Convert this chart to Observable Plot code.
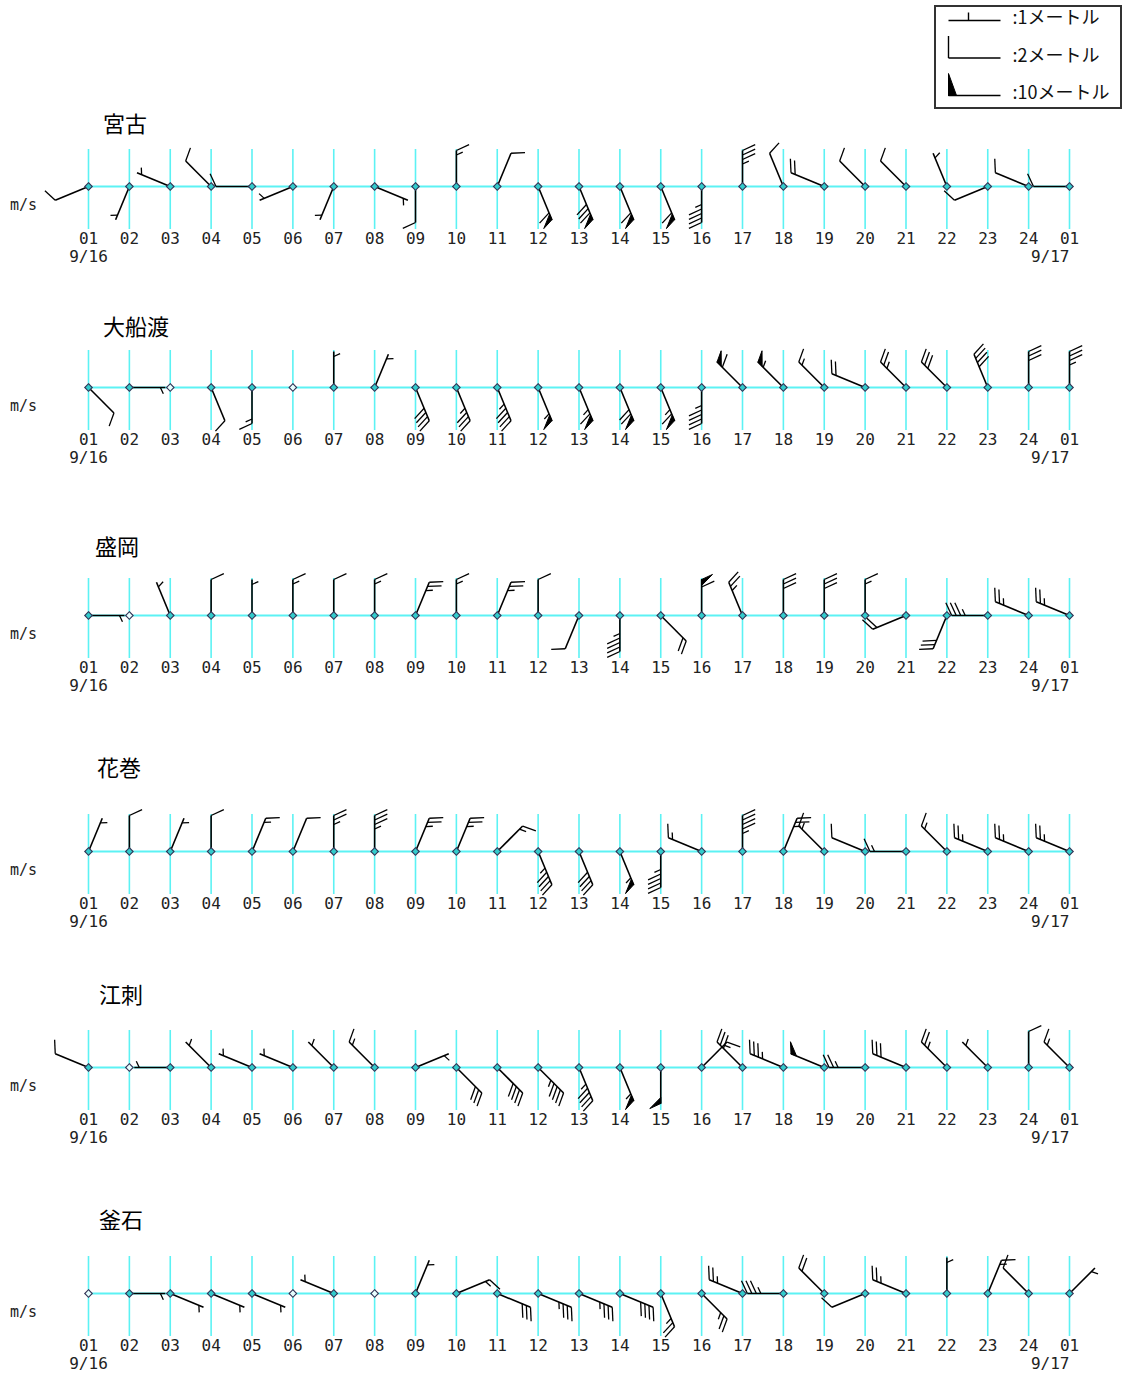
<!DOCTYPE html>
<html><head><meta charset="utf-8">
<script src="https://cdn.jsdelivr.net/npm/d3@7"></script>
<script src="https://cdn.jsdelivr.net/npm/@observablehq/plot@0.6"></script>
<style>
body{margin:0;background:#fff;}
#page{position:relative;width:1124px;height:1375px;overflow:hidden;font-family:"Noto Sans CJK JP",sans-serif;background:#fff;}
.title{position:absolute;font-size:22px;line-height:24px;color:#000;white-space:nowrap;}
.unit{position:absolute;font-family:"DejaVu Sans Mono",monospace;font-size:15px;line-height:16px;color:#222;}
.row{position:absolute;left:0;}
#legend{position:absolute;left:934px;top:5px;width:188px;height:104px;border:2px solid #333;box-sizing:border-box;background:#fff;}
#legend svg{position:absolute;left:0;top:0;}
</style></head>
<body><div id="page"></div>
<script>
// ---- data ----
const hourLabels = ["01","02","03","04","05","06","07","08","09","10","11","12","13","14","15","16","17","18","19","20","21","22","23","24","01"];
const dateLabels = ["9/16","9/17"];
const stations = ["宮古","大船渡","盛岡","花巻","江刺","釜石"];

const miyakoDir   = ["WSW","SSW","WNW","NW","W","WSW","SSW","ESE","S","N","NNE","SSE","SSE","SSE","SSE","S","N","NNW","WNW","NW","NW","NNW","WSW","WNW","W"];
const miyakoSpeed = [2,1,1,2,2,1,1,1,2,3,2,12,16,12,12,9,7,2,4,2,2,1,2,2,2];

const ofunatoDir   = ["SE","E","","SSE","S","","N","NNE","SSE","SSE","SSE","SSE","SSE","SSE","SSE","S","NW","NW","NW","WNW","NW","NW","NNW","N","N"];
const ofunatoSpeed = [2,1,0,2,3,0,1,1,8,7,9,11,13,14,13,9,12,11,3,4,5,6,8,6,7];

const moriokaDir   = ["E","","NNW","N","N","N","N","N","NNE","N","NNE","N","SSW","S","SE","N","NNW","N","N","N","WSW","SSW","W","WNW","WNW"];
const moriokaSpeed = [1,0,1,2,1,3,2,3,5,3,5,2,2,9,4,12,5,6,6,3,4,6,7,5,5];

const hanamakiDir   = ["NNE","N","NNE","N","NNE","NNE","N","N","NNE","NNE","NE","SSE","SSE","SSE","S","WNW","N","NNE","NW","WNW","W","NW","WNW","WNW","WNW"];
const hanamakiSpeed = [1,2,1,2,3,2,5,7,5,5,3,9,8,11,9,3,9,5,3,2,3,3,5,5,5];

const esashiDir   = ["WNW","","W","NW","WNW","WNW","NW","NW","ENE","SE","SE","SE","SSE","SSE","S","NE","NW","WNW","WNW","W","WNW","NW","NW","N","NW"];
const esashiSpeed = [2,0,1,1,1,1,1,3,1,6,8,9,9,11,10,3,6,7,10,5,6,5,1,2,3];

const kamaishiDir   = ["","E","ESE","ESE","ESE","","WNW","","NNE","ENE","ESE","ESE","ESE","ESE","SSE","SE","WNW","W","NW","WSW","WNW","N","NNE","NW","NE"];
const kamaishiSpeed = [0,1,1,1,1,0,1,0,1,3,6,7,7,8,5,5,5,7,4,2,5,1,3,2,1];

const legendSpeeds = [1,2,10];
const legendLabels = [":1メートル",":2メートル",":10メートル"];

// ---- layout ----
const series = [
  [miyakoDir, miyakoSpeed],[ofunatoDir, ofunatoSpeed],[moriokaDir, moriokaSpeed],
  [hanamakiDir, hanamakiSpeed],[esashiDir, esashiSpeed],[kamaishiDir, kamaishiSpeed]
];
const baselines = [186,387,615,851,1067,1293];
const titleXY = [[103,122],[103,325],[95,545],[97,766],[99,993],[99,1218]];
const X0 = 88, X1 = 1069;
const pxPerHour = (X1 - X0) / 24;
const TOP = 60, H = 140;
const CYAN = "#5cf2f4";
const compass = {N:0,NNE:22.5,NE:45,ENE:67.5,E:90,ESE:112.5,SE:135,SSE:157.5,S:180,SSW:202.5,SW:225,WSW:247.5,W:270,WNW:292.5,NW:315,NNW:337.5};

function barbGeometry(dirDeg, spd, g) {
  const out = {shaft: null, feathers: [], flags: []};
  if (!spd) return out;
  const t = dirDeg * Math.PI / 180, f = (dirDeg + g.phi) * Math.PI / 180;
  const ux = Math.sin(t), uy = -Math.cos(t), vx = Math.sin(f), vy = -Math.cos(f);
  const at = s => [ux * s, uy * s];
  out.shaft = [0, 0, ux * g.L, uy * g.L];
  const n10 = Math.floor(spd / 10), rest = spd - 10 * n10, n2 = Math.floor(rest / 2), n1 = rest - 2 * n2;
  let pos = g.L;
  for (let k = 0; k < n10; k++) {
    const a = at(pos), b = at(pos - g.pw);
    out.flags.push([a, b, [a[0] + vx * g.Lp, a[1] + vy * g.Lp]]);
    pos -= g.pw + g.gap;
  }
  for (let k = 0; k < n2; k++) {
    const a = at(pos);
    out.feathers.push([a[0], a[1], a[0] + vx * g.Lf, a[1] + vy * g.Lf]);
    pos -= g.sp;
  }
  if (n1) {
    if (n10 === 0 && n2 === 0) pos = g.L - g.inset;
    const a = at(pos);
    out.feathers.push([a[0], a[1], a[0] + vx * g.Ls, a[1] + vy * g.Ls]);
  }
  return out;
}

const chartGeom = {L: 36, Lf: 14, Ls: 7, Lp: 12, sp: 4.5, pw: 6, gap: 1.5, inset: 5, phi: 65};
const page = document.getElementById("page");

stations.forEach((name, si) => {
  const [dirs, spds] = series[si];
  const shafts = [], feathers = [], flagPts = [], obs = [];
  dirs.forEach((d, h) => {
    const g = barbGeometry(compass[d] ?? 0, spds[h], chartGeom);
    obs.push({h, calm: !spds[h]});
    const X = sx => h + sx / pxPerHour, Y = sy => -sy;
    if (g.shaft) shafts.push({x1: X(g.shaft[0]), y1: Y(g.shaft[1]), x2: X(g.shaft[2]), y2: Y(g.shaft[3])});
    g.feathers.forEach(f => feathers.push({x1: X(f[0]), y1: Y(f[1]), x2: X(f[2]), y2: Y(f[3])}));
    g.flags.forEach((tri, k) => tri.concat([tri[0]]).forEach(p => flagPts.push({x: X(p[0]), y: Y(p[1]), id: h + "-" + k})));
  });
  const idx = hourLabels.map((_, i) => i);
  const svg = Plot.plot({
    width: 1124, height: H,
    style: {overflow: "visible", background: "transparent"},
    x: {type: "linear", domain: [0, 24], range: [X0, X1], axis: null},
    y: {type: "linear", domain: [-(H - TOP), TOP], range: [H, 0], axis: null},
    marks: [
      Plot.ruleX(idx, {x: d => d, y1: () => -43, y2: () => 37, stroke: CYAN, strokeWidth: 1.6}),
      Plot.ruleY([0], {y: d => d, x1: () => 0, x2: () => 24, stroke: CYAN, strokeWidth: 2}),
      Plot.link(shafts, {x1: "x1", y1: "y1", x2: "x2", y2: "y2", stroke: "#000", strokeWidth: 1.6}),
      Plot.link(feathers, {x1: "x1", y1: "y1", x2: "x2", y2: "y2", stroke: "#000", strokeWidth: 1.3}),
      Plot.line(flagPts, {x: "x", y: "y", z: "id", fill: "#000", stroke: "#000", strokeWidth: 1}),
      Plot.dot(obs, {x: "h", y: () => 0, symbol: "diamond2", r: 3.4, stroke: "#335", strokeWidth: 1.1, fill: d => d.calm ? "#e8ffff" : "#3cc"}),
      Plot.text(hourLabels, {x: (d, i) => i, y: () => -52, text: d => d, fontFamily: "DejaVu Sans Mono", fontSize: 16, fill: "#222"}),
      Plot.text(dateLabels.slice(0, 1), {x: () => 0, y: () => -70, text: d => d, textAnchor: "middle", fontFamily: "DejaVu Sans Mono", fontSize: 16, fill: "#222"}),
      Plot.text(dateLabels.slice(1), {x: () => 24, y: () => -70, text: d => d, textAnchor: "end", dx: 0, fontFamily: "DejaVu Sans Mono", fontSize: 16, fill: "#222"})
    ]
  });
  const row = document.createElement("div");
  row.className = "row";
  row.style.top = (baselines[si] - TOP) + "px";
  row.appendChild(svg);
  page.appendChild(row);

  const t = document.createElement("div");
  t.className = "title";
  t.textContent = name;
  t.style.left = titleXY[si][0] + "px";
  t.style.top = (titleXY[si][1] - 12) + "px";
  page.appendChild(t);

  const u = document.createElement("div");
  u.className = "unit";
  u.textContent = "m/s";
  u.style.left = "10px";
  u.style.top = (baselines[si] + 19 - 8) + "px";
  page.appendChild(u);
});

// ---- legend ----
const legendGeom = {L: 52, Lf: 22, Ls: 8, Lp: 22, sp: 5, pw: 8, gap: 2, inset: 20, phi: 90};
const lw = 184, lh = 100;
const lShafts = [], lFeathers = [], lFlags = [], lText = [];
legendSpeeds.forEach((s, i) => {
  const cy = -(13 + i * 37.5), cx = 64;
  const g = barbGeometry(270, s, legendGeom);
  lShafts.push({x1: cx + g.shaft[0], y1: cy - g.shaft[1], x2: cx + g.shaft[2], y2: cy - g.shaft[3]});
  g.feathers.forEach(f => lFeathers.push({x1: cx + f[0], y1: cy - f[1], x2: cx + f[2], y2: cy - f[3]}));
  g.flags.forEach(tri => tri.concat([tri[0]]).forEach(p => lFlags.push({x: cx + p[0], y: cy - p[1], id: i})));
  lText.push({x: 76, y: cy + 2, label: legendLabels[i]});
});
const legendSvg = Plot.plot({
  width: lw, height: lh,
  style: {overflow: "visible", background: "transparent"},
  x: {type: "linear", domain: [0, lw], range: [0, lw], axis: null},
  y: {type: "linear", domain: [-lh, 0], range: [lh, 0], axis: null},
  marks: [
    Plot.link(lShafts, {x1: "x1", y1: "y1", x2: "x2", y2: "y2", stroke: "#000", strokeWidth: 1.4}),
    Plot.link(lFeathers, {x1: "x1", y1: "y1", x2: "x2", y2: "y2", stroke: "#000", strokeWidth: 1.4}),
    Plot.line(lFlags, {x: "x", y: "y", z: "id", fill: "#000", stroke: "#000", strokeWidth: 1}),
    Plot.text(lText, {x: "x", y: "y", text: "label", textAnchor: "start", fontFamily: "Noto Sans CJK JP", fontSize: 18, fill: "#111"})
  ]
});
const leg = document.createElement("div");
leg.id = "legend";
leg.appendChild(legendSvg);
page.appendChild(leg);
</script>
</body></html>
